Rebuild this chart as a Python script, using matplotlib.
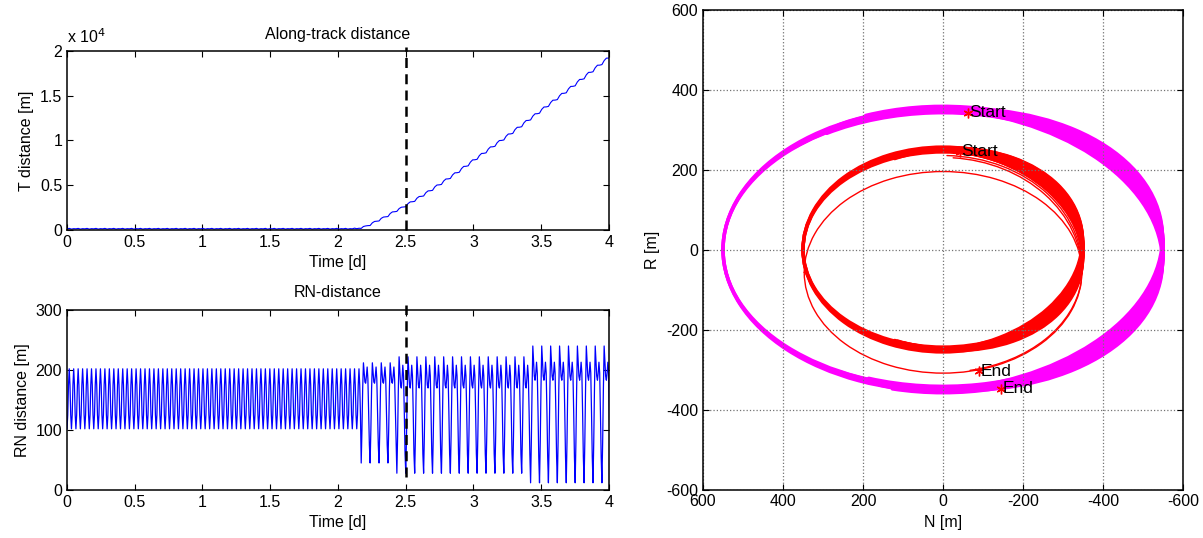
import numpy as np
import matplotlib.pyplot as plt
from matplotlib.patches import Arc
from matplotlib.ticker import FuncFormatter

plt.rcParams['font.family'] = ['Liberation Sans', 'DejaVu Sans']
plt.rcParams['axes.unicode_minus'] = False
plt.rcParams['font.size'] = 11.5

# one orbit in days, read from the spacing of the deep RN troughs
orbit_period = 0.0658
rn_samples = 12
along_samples = 4

# RN-distance [m]: one orbit of values per phase, and how many orbits it lasts
rn_orbits = [33, 4, 15, 9]
rn_patterns = [
    [102, 125, 175, 202, 175, 125, 102, 125, 175, 202, 175, 125],
    [45, 100, 170, 212, 195, 180, 178, 190, 205, 185, 130, 75],
    [28, 90, 170, 222, 200, 175, 170, 185, 208, 190, 130, 60],
    [12, 80, 170, 240, 215, 190, 183, 195, 213, 195, 130, 55],
]

# along-track distance [m] at the start of each orbit
along_flat = 130
along_flat_orbits = 33
along_rise = [180, 500, 1010, 1500, 2080, 2600, 3200, 3800, 4430, 5090,
              5760, 6450, 7170, 7900, 8620, 9350, 10060, 10790, 11540, 12300,
              13050, 13810, 14570, 15330, 16110, 16890, 17680, 18480, 19270]
along_shape = [0.0, 0.5, 0.95, 0.9]   # progress inside one orbit
along_ripple = [0, 50, -30, 20]       # small wiggle [m]

manoeuvre_day = 2.5

# relative orbits in the N-R plane [m]
mag_a = 550
mag_full_b = [345, 350, 355]
mag_top_b = [342, 358, 346, 354]
mag_top_from = [45, 60, 35, 50]
mag_top_to = [300, 290, 310, 295]
mag_band_b = [350, 350, 350, 350, 350, 350, 350, 350, 348, 352]
mag_band_tilt = [5.5, -5.5, 4, -4, 2.5, -2.5, 1.2, -1.2, 3, -3]
mag_band_from = [100, 84, 98, 86, 96, 88, 92, 88, 94, 90]
mag_band_to = [276, 260, 274, 262, 272, 264, 268, 264, 270, 266]

red_a = 350
red_full_b = [244, 250, 256]
red_band_b = [250, 250, 247, 253, 250, 250, 248, 252]
red_band_tilt = [8, -8, 5, -5, 2.5, -2.5, 6.5, -6.5]
red_band_from = [80, 70, 78, 72, 76, 74, 80, 72]
red_band_to = [290, 280, 288, 282, 286, 284, 290, 280]

red_thin_center = [-57, -50, -45, -60]
red_thin_a = [347, 348, 347, 348]
red_thin_b = [252, 257, 280, 290]
red_thin_from = [0, 185, 92, 95]
red_thin_to = [360, 255, 185, 180]

mag_start = (-63, 342)
mag_end = (-145, -348)
red_start = (-42, 245)
red_end = (-91, -304)

# build the time series
rn = np.concatenate([np.tile(p, n) for p, n in zip(rn_patterns, rn_orbits)])
t_rn = np.arange(rn.size) * orbit_period / rn_samples

T_orbit = np.array([along_flat] * along_flat_orbits + along_rise, dtype=float)
n_orb = T_orbit.size - 1
T = (np.repeat(T_orbit[:-1], along_samples)
     + np.tile(along_shape, n_orb) * np.repeat(np.diff(T_orbit), along_samples)
     + np.tile(along_ripple, n_orb))
t_T = np.arange(T.size) * orbit_period / along_samples

fig = plt.figure(figsize=(12.03, 5.38), dpi=100)
ax1 = fig.add_axes([0.0557, 0.5725, 0.4505, 0.3327])
ax2 = fig.add_axes([0.0557, 0.0892, 0.4505, 0.3346])
ax3 = fig.add_axes([0.5844, 0.0901, 0.3990, 0.8922])

gfmt = FuncFormatter(lambda v, p: '%g' % v)


def matlab_box(ax):
    for s in ax.spines.values():
        s.set_linewidth(1.1)
    ax.tick_params(direction='in', top=True, right=True, length=4, width=0.8,
                   labelsize=11.5)


# along-track
ax1.plot(t_T, T, color='blue', lw=0.8)
ax1.plot([manoeuvre_day, manoeuvre_day], [0, 20500], 'k--', lw=1.8,
         dashes=(4, 2.5), clip_on=False)
ax1.set_xlim(0, 4)
ax1.set_ylim(0, 20000)
ax1.set_xticks(np.arange(0, 4.01, 0.5))
ax1.set_yticks(np.arange(0, 20001, 5000))
ax1.xaxis.set_major_formatter(gfmt)
ax1.yaxis.set_major_formatter(FuncFormatter(lambda v, p: '%g' % (v / 1e4)))
ax1.set_title('Along-track distance', fontsize=11.5, pad=9)
ax1.set_xlabel('Time [d]')
ax1.set_ylabel('T distance [m]')
ax1.text(0.0, 1.03, r'x 10$^{4}$', transform=ax1.transAxes, fontsize=11.5,
         ha='left', va='bottom')
matlab_box(ax1)

# RN-distance
ax2.plot(t_rn, rn, color='blue', lw=0.9)
ax2.plot([manoeuvre_day, manoeuvre_day], [22, 308], 'k--', lw=1.8,
         dashes=(4, 2.5), clip_on=False)
ax2.set_xlim(0, 4)
ax2.set_ylim(0, 300)
ax2.set_xticks(np.arange(0, 4.01, 0.5))
ax2.set_yticks([0, 100, 200, 300])
ax2.xaxis.set_major_formatter(gfmt)
ax2.set_title('RN-distance', fontsize=11.5, pad=9)
ax2.set_xlabel('Time [d]')
ax2.set_ylabel('RN distance [m]')
matlab_box(ax2)


def ring(ax, a, b, color, lw, center=0.0, tilt=0.0, th1=0.0, th2=360.0):
    ax.add_patch(Arc((0, center), 2 * a, 2 * b, angle=tilt, theta1=th1,
                     theta2=th2, color=color, lw=lw, capstyle='round'))


# N-R plane
for b in mag_full_b:
    ring(ax3, mag_a, b, 'magenta', 2.5)
for b, f, t in zip(mag_top_b, mag_top_from, mag_top_to):
    ring(ax3, mag_a, b, 'magenta', 2.5, th1=f, th2=t)
for b, tilt, f, t in zip(mag_band_b, mag_band_tilt, mag_band_from, mag_band_to):
    ring(ax3, mag_a, b, 'magenta', 2.5, tilt=tilt, th1=f, th2=t)

for b in red_full_b:
    ring(ax3, red_a, b, 'red', 2.5)
for b, tilt, f, t in zip(red_band_b, red_band_tilt, red_band_from, red_band_to):
    ring(ax3, red_a, b, 'red', 2.5, tilt=tilt, th1=f, th2=t)
for c, a, b, f, t in zip(red_thin_center, red_thin_a, red_thin_b,
                         red_thin_from, red_thin_to):
    ring(ax3, a, b, 'red', 1.0, center=c, th1=f, th2=t)

for (n, r), label in [(mag_start, 'Start'), (red_start, 'Start'),
                      (red_end, 'End'), (mag_end, 'End')]:
    ax3.plot(n, r, color='red', marker=(6, 2, 0), ms=7, mew=1)
    ax3.text(n - 3, r, label, ha='left', va='center', fontsize=12.5)

ax3.set_xlim(600, -600)
ax3.set_ylim(-600, 600)
ax3.set_xticks(np.arange(-600, 601, 200))
ax3.set_yticks(np.arange(-600, 601, 200))
ax3.grid(True, color='0.45', linestyle=':', lw=0.9)
ax3.set_xlabel('N [m]')
ax3.set_ylabel('R [m]')
matlab_box(ax3)

fig.savefig('out.png', dpi=100)
